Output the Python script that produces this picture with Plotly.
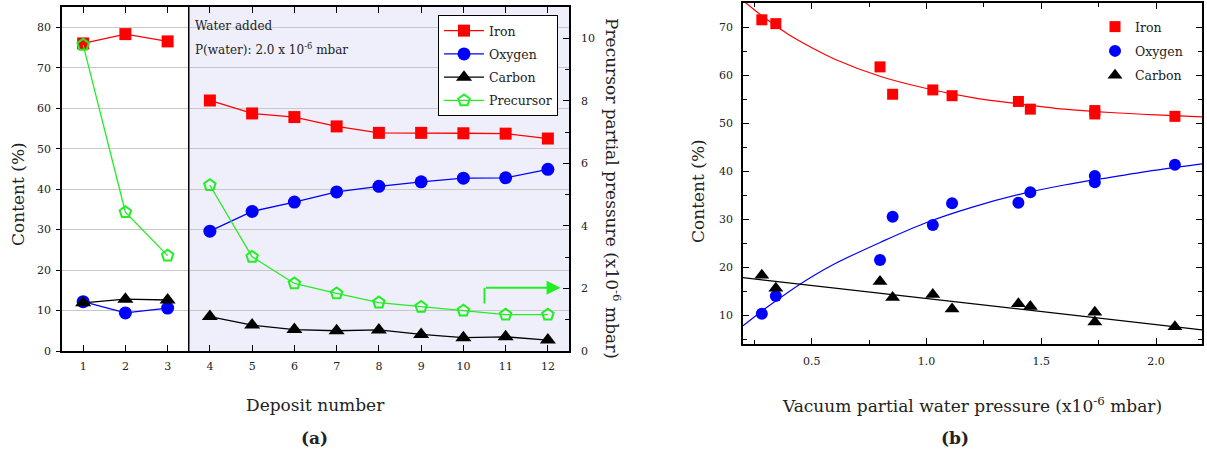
import plotly.graph_objects as go

# ---------------- data: panel (a) ----------------
deposits = [1, 2, 3, 4, 5, 6, 7, 8, 9, 10, 11, 12]
iron_a = [76.0, 78.3, 76.5, 61.9, 58.7, 57.8, 55.5, 53.9, 53.9, 53.8, 53.7, 52.5]
oxygen_a = [12.2, 9.4, 10.6, 29.6, 34.5, 36.8, 39.3, 40.7, 41.8, 42.7, 42.8, 44.9]
carbon_a = [11.9, 12.8, 12.6, 8.5, 6.4, 5.3, 5.0, 5.2, 4.1, 3.3, 3.5, 2.7]
precursor_a = [9.79, 4.44, 3.05, 5.30, 3.01, 2.16, 1.84, 1.55, 1.41, 1.29, 1.16, 1.16]
water_added_at = 3.5
split = 3  # first deposit after water was added (index)

# ---------------- data: panel (b) ----------------
iron_x = [0.282, 0.343, 0.797, 0.852, 1.027, 1.111, 1.40, 1.452, 1.733, 1.733, 2.082]
iron_b = [71.5, 70.7, 61.7, 56.0, 56.9, 55.7, 54.5, 52.9, 52.6, 51.9, 51.4]
oxy_x = [0.282, 0.343, 0.797, 0.852, 1.027, 1.111, 1.40, 1.452, 1.733, 1.733, 2.082]
oxygen_b = [10.3, 14.0, 21.5, 30.5, 28.8, 33.3, 33.4, 35.6, 37.7, 39.0, 41.3]
carb_x = [0.282, 0.343, 0.797, 0.852, 1.027, 1.111, 1.40, 1.452, 1.733, 1.733, 2.082]
carbon_b = [18.3, 15.6, 17.0, 13.7, 14.3, 11.3, 12.4, 11.8, 10.6, 8.6, 7.6]

fit_x = [0.2, 0.3, 0.4, 0.5, 0.6, 0.8, 1.0, 1.2, 1.4, 1.6, 1.8, 2.0, 2.2]
iron_fit = [75.5, 71.7, 68.4, 65.7, 63.3, 59.7, 57.2, 55.3, 54.0, 52.9, 52.2, 51.7, 51.3]
oxygen_fit = [7.8, 11.5, 14.9, 18.0, 20.7, 25.2, 29.3, 32.5, 35.1, 37.1, 38.7, 40.2, 41.5]
carbon_fit_x = [0.2, 2.2]
carbon_fit = [17.8, 6.95]

# ---------------- styles ----------------
FONT = "DejaVu Serif"
RED, BLUE, BLACK, GREEN = "#FF0000", "#0000FF", "#000000", "#22EE22"
W, H = 1207, 458

fig = go.Figure()

series_a = [
    ("Iron", iron_a, RED, "square", 12, "y"),
    ("Oxygen", oxygen_a, BLUE, "circle", 13, "y"),
    ("Carbon", carbon_a, BLACK, "triangle-up", 14, "y"),
]
for name, vals, col, sym, sz, ya in series_a:
    for k, (xs, ys) in enumerate([(deposits[:split], vals[:split]), (deposits[split:], vals[split:])]):
        fig.add_trace(go.Scatter(
            x=xs, y=ys, mode="lines+markers", name=name, legendgroup=name,
            showlegend=(k == 0), legend="legend",
            line=dict(color=col, width=1.3),
            marker=dict(symbol=sym, size=sz, color=col),
            xaxis="x", yaxis=ya))

for k, (xs, ys) in enumerate([(deposits[:split], precursor_a[:split]), (deposits[split:], precursor_a[split:])]):
    fig.add_trace(go.Scatter(
        x=xs, y=ys, mode="lines+markers", name="Precursor", legendgroup="Precursor",
        showlegend=(k == 0), legend="legend",
        line=dict(color=GREEN, width=1.3),
        marker=dict(symbol="pentagon-open", size=12, color=GREEN, line=dict(width=2, color=GREEN)),
        xaxis="x", yaxis="y2"))

# panel (b)
fig.add_trace(go.Scatter(x=fit_x, y=iron_fit, mode="lines", line=dict(color=RED, width=1.2, shape="spline"),
                         showlegend=False, xaxis="x3", yaxis="y3", hoverinfo="skip"))
fig.add_trace(go.Scatter(x=fit_x, y=oxygen_fit, mode="lines", line=dict(color=BLUE, width=1.2, shape="spline"),
                         showlegend=False, xaxis="x3", yaxis="y3", hoverinfo="skip"))
fig.add_trace(go.Scatter(x=carbon_fit_x, y=carbon_fit, mode="lines", line=dict(color=BLACK, width=1.2),
                         showlegend=False, xaxis="x3", yaxis="y3", hoverinfo="skip"))
for name, xs, ys, col, sym, sz in [
    ("Iron", iron_x, iron_b, RED, "square", 11),
    ("Oxygen", oxy_x, oxygen_b, BLUE, "circle", 12),
    ("Carbon", carb_x, carbon_b, BLACK, "triangle-up", 13),
]:
    fig.add_trace(go.Scatter(x=xs, y=ys, mode="markers", name=name, legend="legend2",
                             legendgroup="b" + name,
                             marker=dict(symbol=sym, size=sz, color=col),
                             xaxis="x3", yaxis="y3"))

# ---------------- layout ----------------
def px_x(p):
    return p / W


def px_y(p):
    return 1 - p / H


axis_common = dict(showline=True, linecolor="black", linewidth=1.5, zeroline=False, automargin=False,
                   tickfont=dict(family=FONT, size=11, color="#222"), tickcolor="black", tickwidth=1.2)

fig.update_layout(
    width=W, height=H, margin=dict(l=0, r=0, t=0, b=0, autoexpand=False),
    paper_bgcolor="white", plot_bgcolor="white",
    font=dict(family=FONT, color="#222"),
    xaxis=dict(domain=[px_x(62), px_x(569)], range=[0.5, 12.5], tickvals=deposits,
               ticks="inside", ticklen=6, mirror="ticks", showgrid=False, anchor="y",
               ticklabelstandoff=4, **axis_common),
    yaxis=dict(domain=[px_y(351), px_y(7)], range=[0, 85], tickvals=[0, 10, 20, 30, 40, 50, 60, 70, 80],
               ticks="outside", ticklen=4, showgrid=True, gridcolor="#C8C8C8", gridwidth=1.2,
               anchor="x", ticklabelstandoff=3, **axis_common),
    yaxis2=dict(overlaying="y", side="right", range=[0, 11], tickvals=[0, 2, 4, 6, 8, 10],
                ticks="inside", ticklen=6, showgrid=False, anchor="x", ticklabelstandoff=8,
                minor=dict(tickvals=[1, 3, 5, 7, 9], ticks="inside", ticklen=4, tickcolor="black"),
                **axis_common),
    xaxis3=dict(domain=[px_x(743), px_x(1202)], range=[0.2, 2.2], tickvals=[0.5, 1.0, 1.5, 2.0],
                ticktext=["0.5", "1.0", "1.5", "2.0"], ticks="inside", ticklen=6, mirror="ticks",
                minor=dict(dtick=0.25, tick0=0, ticks="inside", ticklen=4, tickcolor="black"),
                showgrid=False, anchor="y3", ticklabelstandoff=6, **axis_common),
    yaxis3=dict(domain=[px_y(344), px_y(3)], range=[4, 75], tickvals=[10, 20, 30, 40, 50, 60, 70],
                ticks="inside", ticklen=6, mirror="ticks",
                minor=dict(dtick=5, tick0=0, ticks="inside", ticklen=4, tickcolor="black"),
                showgrid=False, anchor="x3", ticklabelstandoff=6, **axis_common),
    legend=dict(x=px_x(438), y=px_y(15), xanchor="left", yanchor="top",
                bordercolor="black", borderwidth=1, bgcolor="white",
                font=dict(family=FONT, size=12.5, color="#222"), itemwidth=40,
                tracegroupgap=4),
    legend2=dict(x=px_x(1095), y=px_y(12), xanchor="left", yanchor="top",
                 bgcolor="rgba(0,0,0,0)", borderwidth=0,
                 font=dict(family=FONT, size=12.5, color="#222"), tracegroupgap=5),
)

# shaded water region and separator
fig.add_shape(type="rect", xref="x", yref="y domain", x0=water_added_at, x1=12.5, y0=0, y1=1,
              fillcolor="#EFEFFB", line=dict(width=0), layer="below")
fig.add_shape(type="line", xref="x", yref="y domain", x0=water_added_at, x1=water_added_at, y0=0, y1=1,
              line=dict(color="black", width=1.5))

# green axis-indicator arrow
fig.add_shape(type="line", xref="x", yref="y2", x0=10.5, x1=10.5, y0=1.52, y1=2.02,
              line=dict(color=GREEN, width=2))
fig.add_annotation(x=12.3, y=2.02, ax=10.5, ay=2.02, xref="x", yref="y2", axref="x", ayref="y2",
                   text="", showarrow=True, arrowhead=2, arrowsize=1.4, arrowwidth=2, arrowcolor=GREEN)

ann_font = dict(family=FONT, color="#222")
fig.add_annotation(x=px_x(193), y=px_y(26), xref="paper", yref="paper", xanchor="left", yanchor="middle",
                   text="Water added", showarrow=False, font=dict(size=12, **ann_font))
fig.add_annotation(x=px_x(193), y=px_y(49), xref="paper", yref="paper", xanchor="left", yanchor="middle",
                   text="P(water): 2.0 x 10<sup>-6</sup> mbar", showarrow=False, font=dict(size=12, **ann_font))

titles = [
    ("Deposit number", 315, 405, 0),
    ("Content (%)", 18, 194, -90),
    ("Precursor partial pressure (x10<sup>-6</sup> mbar)", 613, 188, 90),
    ("Content (%)", 698, 191, -90),
    ("Vacuum partial water pressure (x10<sup>-6</sup> mbar)", 972, 405, 0),
]
for txt, x, y, ang in titles:
    fig.add_annotation(x=px_x(x), y=px_y(y), xref="paper", yref="paper", xanchor="center", yanchor="middle",
                       text=txt, textangle=ang, showarrow=False, font=dict(size=17, **ann_font))

for txt, x in [("<b>(a)</b>", 314), ("<b>(b)</b>", 955)]:
    fig.add_annotation(x=px_x(x), y=px_y(438), xref="paper", yref="paper", xanchor="center", yanchor="middle",
                       text=txt, showarrow=False, font=dict(size=17, **ann_font))

fig.write_html("out.html")
